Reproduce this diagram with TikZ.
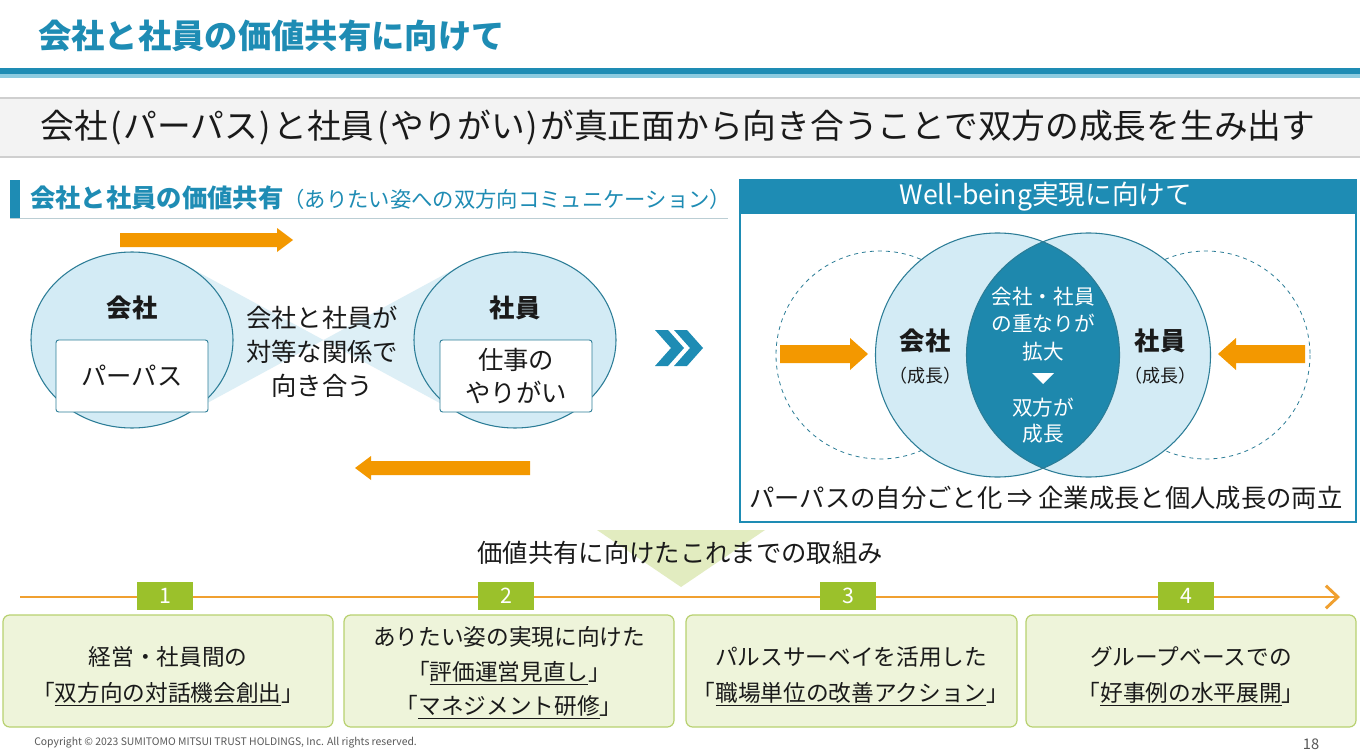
\documentclass[tikz,border=0pt]{standalone}
\usepackage{fontspec}
\setmainfont{Noto Sans CJK JP}
\usetikzlibrary{arrows.meta}
\definecolor{tealA}{HTML}{1E8CB4}
\definecolor{tealB}{HTML}{8CCBE0}
\definecolor{tealD}{HTML}{1E88AD}
\definecolor{circB}{HTML}{D3EBF5}
\definecolor{circL}{HTML}{2C7D97}
\definecolor{bowF}{HTML}{DDEFF6}
\definecolor{orng}{HTML}{F39800}
\definecolor{tline}{HTML}{F0A030}
\definecolor{grnN}{HTML}{9BC12B}
\definecolor{grnF}{HTML}{EEF4DA}
\definecolor{grnL}{HTML}{B8D170}
\definecolor{grnT}{HTML}{E2ECC0}
\definecolor{bannerF}{HTML}{F3F3F3}
\definecolor{bannerL}{HTML}{CFCFCF}
\definecolor{txtK}{HTML}{1A1A1A}
\newcommand\fsz[2]{\fontsize{#1}{#2}\selectfont}
\newcommand\lp{\hspace{2pt}(\hspace{1pt}}
\newcommand\rp{\hspace{1pt})\hspace{2pt}}
\begin{document}
\begin{tikzpicture}[x=0.75pt,y=-0.75pt,
  txt/.style={inner sep=0pt, align=center, text=txtK},
  arrowshape/.style={fill=orng},
  circ/.style={fill=circB, draw=circL, line width=0.8pt},
  wbox/.style={draw=circL, fill=white, rounded corners=2pt, line width=0.7pt,
    minimum width=114pt, minimum height=54pt, inner sep=0pt, align=center, text=txtK},
  numbox/.style={fill=grnN, text=white, minimum width=42pt, minimum height=21pt,
    inner sep=0pt, font=\fsz{16}{18}},
  gbox/.style={draw=grnL, fill=grnF, rounded corners=5pt, line width=0.9pt}
]
\useasboundingbox (0,0) rectangle (1360,756);
\fill[white] (0,0) rectangle (1360,756);

% ---- title ----
\node[txt, anchor=west, text=tealA, font=\bfseries\fsz{25}{30}] (title) at (38,36) {会社と社員の価値共有に向けて};
\fill[tealA] (0,68) rectangle (1360,74);
\fill[tealB] (0,74) rectangle (1360,78);

% ---- banner ----
\fill[bannerF] (0,98) rectangle (1360,157);
\draw[bannerL, line width=0.8pt] (0,98) -- (1360,98);
\draw[bannerL, line width=0.8pt] (0,157) -- (1360,157);
\node[txt, font=\fsz{25.3}{28}] (banner) at (678,128) {会社\lp パーパス\rp と社員\lp やりがい\rp が真正面から向き合うことで双方の成長を生み出す};

% ---- left header ----
\fill[tealA] (10,180) rectangle (20,218);
\draw[bannerL!70!tealB, line width=0.8pt] (10,218.5) -- (728,218.5);
\node[txt, anchor=west, text=tealA] (lhead) at (30,198) {{\bfseries\fsz{19}{22}会社と社員の価値共有}{\fsz{16}{22}（ありたい姿への双方向コミュニケーション）}};

% ---- left diagram ----
\fill[arrowshape] (120,233) -- (277,233) -- (277,228) -- (293,240) -- (277,252) -- (277,247) -- (120,247) -- cycle;
\fill[bowF] (187,266) -- (323.5,340) -- (187,414) -- cycle;
\fill[bowF] (460,266) -- (323.5,340) -- (460,414) -- cycle;
\draw[circ] (132,340) ellipse [x radius=101, y radius=88];
\draw[circ] (515,340) ellipse [x radius=101, y radius=88];
\node[txt, font=\bfseries\fsz{19}{22}] (kaisha) at (132,308) {会社};
\node[txt, font=\bfseries\fsz{19}{22}] (shain) at (515,308) {社員};
\node[wbox, font=\fsz{19}{22}] (purpose) at (132,376) {パーパス};
\node[wbox, font=\fsz{19}{25}] (yarigai) at (516,376) {仕事の\\やりがい};
\node[txt, font=\fsz{19}{25.5}] (center) at (322,352) {会社と社員が\\対等な関係で\\向き合う};
\fill[arrowshape] (530,461) -- (371,461) -- (371,456) -- (355,468) -- (371,480) -- (371,475) -- (530,475) -- cycle;

% chevrons
\fill[tealA] (655,330) -- (668,330) -- (684,348) -- (668,366) -- (655,366) -- (671,348) -- cycle;
\fill[tealA] (674,330) -- (687,330) -- (703,348) -- (687,366) -- (674,366) -- (690,348) -- cycle;

% ---- right panel ----
\draw[tealA, line width=1pt] (740,180) rectangle (1356,522);
\fill[tealA] (740,180) rectangle (1356,214);
\node[txt, text=white, font=\fsz{20}{22}] (wb) at (1046,197) {Well-being実現に向けて};

\draw[circL, dashed, line width=0.6pt] (880,355) circle (104);
\draw[circL, dashed, line width=0.6pt] (1206,355) circle (104);
\fill[arrowshape] (780,345) -- (850,345) -- (850,338) -- (868,354) -- (850,370) -- (850,363) -- (780,363) -- cycle;
\fill[arrowshape] (1305,345) -- (1236,345) -- (1236,338) -- (1218,354) -- (1236,370) -- (1236,363) -- (1305,363) -- cycle;

\fill[circB] (997.5,355) circle (122);
\fill[circB] (1088.5,355) circle (122);
\begin{scope}
  \clip (997.5,355) circle (122);
  \fill[tealD] (1088.5,355) circle (122);
\end{scope}
\draw[circL, line width=0.8pt] (997.5,355) circle (122);
\draw[circL, line width=0.8pt] (1088.5,355) circle (122);

\node[txt, font=\bfseries\fsz{19}{22}] (rk) at (925,341) {会社};
\node[txt, font=\fsz{13.5}{16}] (rkg) at (925,376) {（成長）};
\node[txt, font=\bfseries\fsz{19}{22}] (rs) at (1160,341) {社員};
\node[txt, font=\fsz{13.5}{16}] (rsg) at (1160,376) {（成長）};
\node[txt, text=white, font=\fsz{15.5}{20.6}] (lens1) at (1043,324) {会社・社員\\の重なりが\\拡大};
\fill[white] (1032,373) -- (1054,373) -- (1043,384) -- cycle;
\node[txt, text=white, font=\fsz{15.5}{19.5}] (lens2) at (1043,421) {双方が\\成長};
\node[txt, font=\fsz{19}{22}] (concl) at (1046,498) {パーパスの自分ごと化\hspace{4pt}⇒\hspace{4pt}企業成長と個人成長の両立};

% ---- bottom ----
\fill[grnT] (597,530) -- (765,530) -- (681,587) -- cycle;
\node[txt, font=\fsz{19}{22}] (btitle) at (680,553) {価値共有に向けたこれまでの取組み};
\coordinate (tl0) at (20,597);
\coordinate (tl1) at (1340,597);
\draw[tline, line width=2.2pt, -{Straight Barb[length=9pt, width=17pt]}] (tl0) -- (tl1);
\node[numbox] (n1) at (165,596) {1};
\node[numbox] (n2) at (506,596) {2};
\node[numbox] (n3) at (848,596) {3};
\node[numbox] (n4) at (1186,596) {4};

\draw[gbox] (3,615) rectangle (333,727);
\draw[gbox] (344,615) rectangle (674,727);
\draw[gbox] (686,615) rectangle (1017,727);
\draw[gbox] (1026,615) rectangle (1356,727);

\node[txt, font=\fsz{17}{27}] (b1) at (168,676) {経営・社員間の\\「\underline{双方向の対話機会創出}」};
\node[txt, font=\fsz{17}{26}] (b2) at (509,673) {ありたい姿の実現に向けた\\「\underline{評価運営見直し}」\\「\underline{マネジメント研修}」};
\node[txt, font=\fsz{17}{27}] (b3) at (851,676) {パルスサーベイを活用した\\「\underline{職場単位の改善アクション}」};
\node[txt, font=\fsz{17}{27}] (b4) at (1191,676) {グループベースでの\\「\underline{好事例の水平展開}」};

\node[txt, anchor=west, text=black!65, font=\fsz{7.8}{9}] (copy) at (34,743) {Copyright © 2023 SUMITOMO MITSUI TRUST HOLDINGS, Inc. All rights reserved.};
\node[txt, text=black!65, font=\fsz{11}{13}] (page) at (1311,744) {18};
\end{tikzpicture}
\end{document}
